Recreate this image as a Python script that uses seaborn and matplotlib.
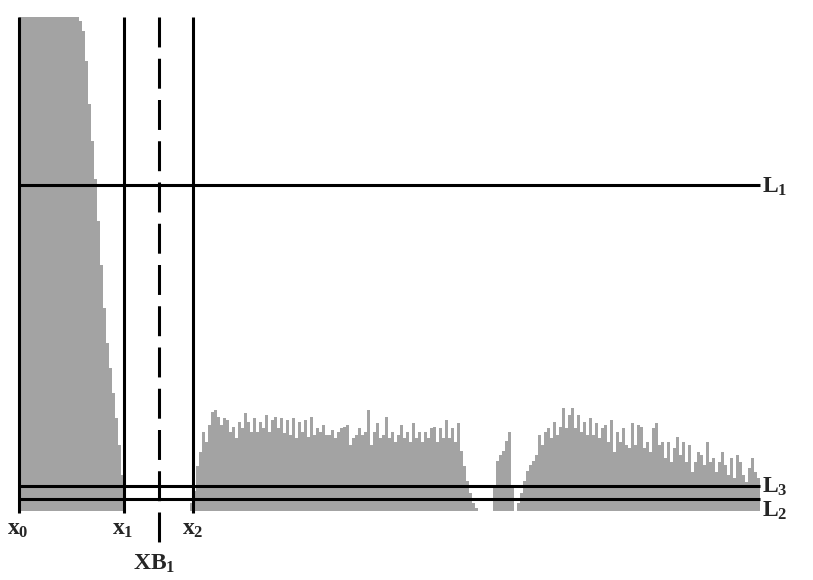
import matplotlib
matplotlib.use("Agg")
import matplotlib.pyplot as plt
import pandas as pd
import seaborn as sns

# Bar heights (one bar per bin; left block clipped at top)
left_block = [540, 540, 540, 540, 540, 540, 540, 540, 540, 540,
              540, 540, 540, 540, 540, 540, 540, 540, 540, 540,
              490, 480, 450, 407, 370, 332, 290, 246, 203, 168,
              143, 118, 93, 66, 36]
gap_a = [0, 0, 0, 0, 0, 0, 0, 0, 0, 0, 0, 0, 0, 0, 0, 0, 0, 0, 0, 0, 0, 0, 8]
group_b = [20, 45, 59, 79, 69, 86, 99, 101, 94, 86,
           93, 91, 79, 84, 73, 89, 83, 98, 89, 79,
           93, 79, 89, 83, 96, 79, 91, 94, 83, 93,
           78, 91, 76, 93, 73, 89, 79, 91, 74, 94,
           76, 83, 79, 86, 76, 76, 81, 73, 79, 83,
           84, 86, 66, 73, 76, 83, 76, 79, 101, 66,
           79, 88, 73, 76, 94, 73, 79, 69, 76, 86,
           73, 79, 69, 88, 73, 79, 69, 79, 73, 83,
           84, 69, 83, 73, 91, 73, 83, 69, 88, 60,
           45, 30, 18, 8, 3]
gap_b = [0, 0, 0, 0, 0]
group_c = [25, 50, 56, 60, 70, 79, 25]
gap_c = [0]
group_d = [8, 18, 30, 40, 46, 50, 56, 76, 66, 79,
           83, 73, 89, 76, 84, 103, 83, 96, 103, 83,
           96, 79, 89, 76, 93, 76, 88, 73, 83, 86,
           69, 91, 59, 79, 69, 83, 66, 63, 88, 66,
           86, 84, 63, 69, 59, 83, 88, 66, 69, 53,
           69, 49, 63, 74, 56, 69, 49, 66, 39, 49,
           59, 56, 46, 69, 49, 53, 39, 49, 59, 46,
           36, 53, 33, 56, 49, 36, 29, 43, 53, 39,
           33]

heights = left_block + gap_a + group_b + gap_b + group_c + gap_c + group_d
bins = list(range(len(heights)))

# Reference lines
vline_labels = ['x_0', 'x_1', 'x_2']
vline_pos = [-0.5, 34.5, 57.5]
dashed_label = 'XB_1'
dashed_pos = 46.0
hline_labels = ['L_1', 'L_3', 'L_2']
hline_levels = [326, 25, 12]

sns.set_theme(style='white')
plt.rcParams['font.family'] = ['Liberation Serif', 'DejaVu Serif']
plt.rcParams['mathtext.fontset'] = 'custom'
plt.rcParams['mathtext.rm'] = 'Liberation Serif:bold'
plt.rcParams['mathtext.it'] = 'Liberation Serif:bold'
plt.rcParams['mathtext.bf'] = 'Liberation Serif:bold'

fig = plt.figure(figsize=(8.13, 5.8), dpi=100)
ax = fig.add_axes([19 / 813, 69 / 580, 741 / 813, 494 / 580])

df = pd.DataFrame({'bin': bins, 'h': heights})
sns.barplot(data=df, x='bin', y='h', color='#a3a3a3', saturation=1,
            width=1, linewidth=0, errorbar=None, ax=ax)

n = len(heights)
ax.set_xlim(-0.5, n - 0.5)
ax.set_ylim(0, 494)
ax.axis('off')

lw = 2.2
ax.vlines(vline_pos, ymin=-1.5, ymax=494, colors='black', linewidth=lw,
          clip_on=False, zorder=5)
ax.hlines(hline_levels, xmin=-0.5, xmax=n - 0.5, colors='black',
          linewidth=lw, clip_on=False, zorder=5)
ax.plot([dashed_pos, dashed_pos], [494, -37], color='black', linewidth=lw,
        dashes=(9.8, 3.7), clip_on=False, zorder=5)

fs = 17
x_offsets = [(-1.5, -24), (-1.5, -24), (-0.5, -24)]
for lab, pos, off in zip(vline_labels, vline_pos, x_offsets):
    ax.annotate(f'${lab}$', xy=(pos, 0), xytext=off, textcoords='offset pixels',
                ha='center', va='baseline', fontsize=fs, annotation_clip=False)
ax.annotate(f'${dashed_label}$', xy=(dashed_pos, 0), xytext=(-4.5, -59),
            textcoords='offset pixels', ha='center', va='baseline',
            fontsize=fs, annotation_clip=False)

l_offsets = [(2, -8), (2, -7), (2, -18)]
for lab, lev, off in zip(hline_labels, hline_levels, l_offsets):
    ax.annotate(f'${lab}$', xy=(n - 0.5, lev), xytext=off,
                textcoords='offset pixels', ha='left', va='baseline',
                fontsize=fs, annotation_clip=False)

fig.savefig('out.png', dpi=100)
